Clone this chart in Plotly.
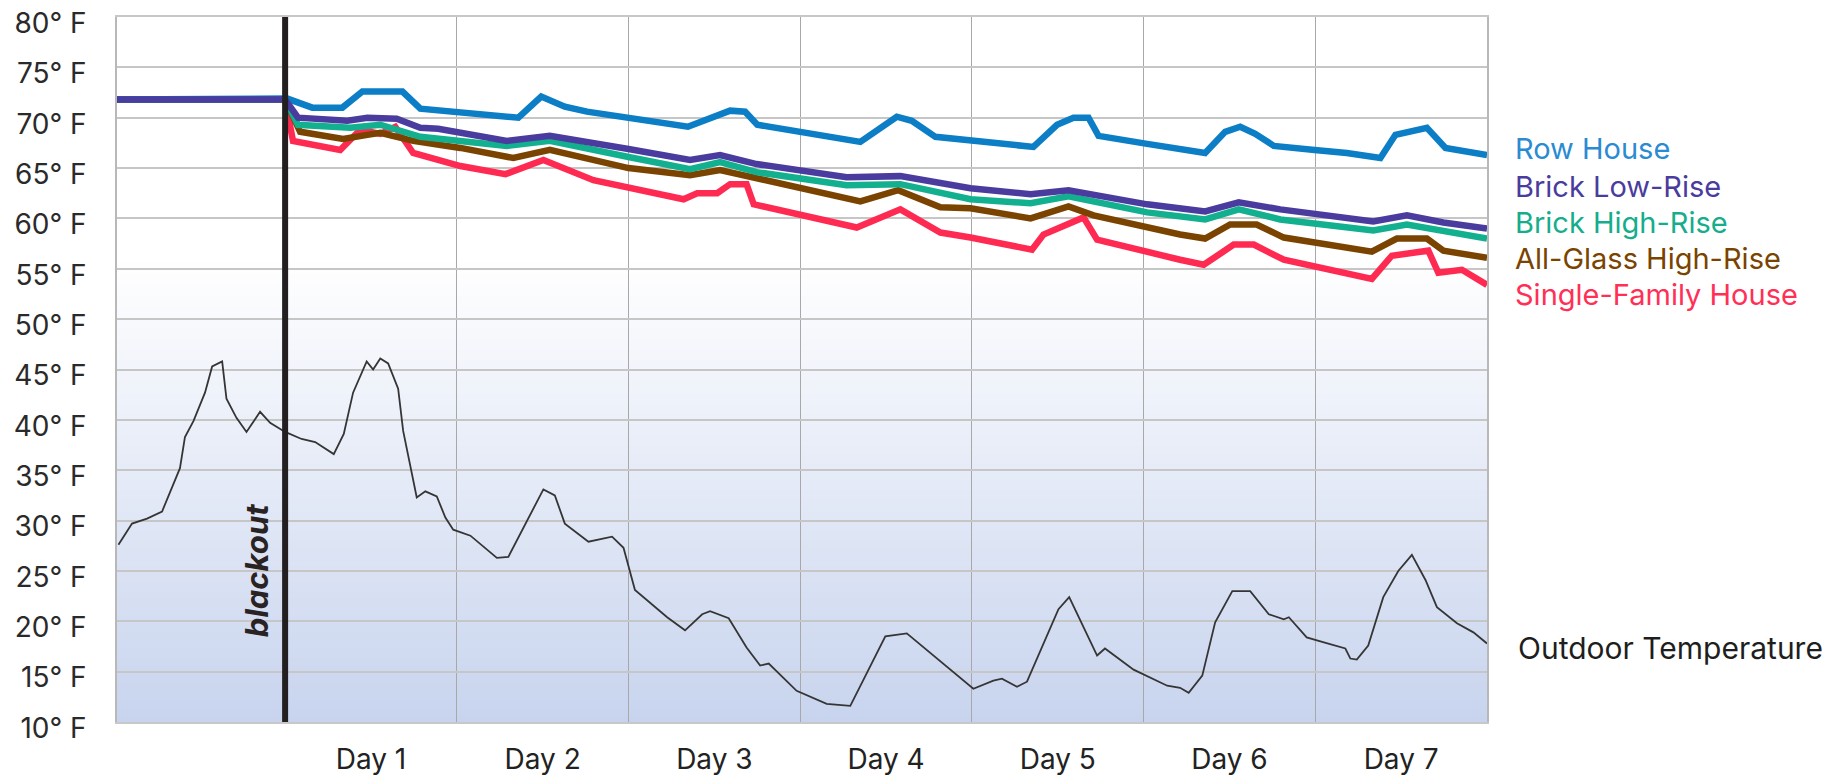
import zlib, struct, base64
import plotly.graph_objects as go

# ---------------- data (hours relative to blackout, °F) ----------------
row_house_h = [-23.5, 0, 0.3, 3.8, 8.0, 10.8, 16.4, 18.9, 32.6, 35.8, 39.1, 42.2, 56.3, 62.2, 64.3, 66.0,
               80.4, 85.5, 87.6, 90.9, 95.8, 100.4, 104.6, 107.9, 110.2, 112.3, 113.7, 120.5, 128.6, 131.4,
               133.5, 135.6, 138.2, 143.9, 148.4, 153.1, 155.2, 159.6, 162.2, 168.0]
row_house_t = [71.8, 71.8, 71.9, 71.0, 71.0, 72.6, 72.6, 70.9, 70.0, 72.1, 71.1, 70.6, 69.1, 70.7, 70.6, 69.3,
               67.6, 70.1, 69.7, 68.1, 67.7, 67.3, 67.1, 69.3, 70.0, 70.0, 68.2, 67.4, 66.5, 68.6,
               69.1, 68.4, 67.2, 66.8, 66.5, 66.0, 68.3, 69.0, 67.0, 66.3]

brick_low_h = [-23.5, 0, 1.8, 8.7, 11.5, 15.6, 18.9, 21.4, 31.0, 37.0, 48.0, 56.6, 60.8, 65.9, 78.5, 86.0,
               95.8, 104.2, 109.5, 120.5, 128.6, 133.3, 139.1, 152.1, 156.8, 161.9, 168.0]
brick_low_t = [71.8, 71.8, 70.0, 69.7, 70.0, 69.9, 69.0, 68.9, 67.7, 68.2, 66.9, 65.8, 66.3, 65.4, 64.1, 64.2,
               63.0, 62.4, 62.8, 61.4, 60.7, 61.6, 60.9, 59.7, 60.3, 59.6, 59.0]

brick_high_h = [-23.5, 0, 1.8, 9.1, 13.3, 18.9, 31.0, 37.0, 48.0, 56.6, 60.8, 65.9, 78.5, 86.0,
                95.8, 104.2, 109.5, 120.5, 128.6, 133.3, 139.1, 152.1, 156.8, 161.9, 168.0]
brick_high_t = [71.8, 71.8, 69.3, 69.0, 69.3, 68.1, 67.2, 67.7, 66.1, 64.9, 65.6, 64.6, 63.3, 63.4,
                61.9, 61.5, 62.2, 60.6, 59.9, 60.9, 59.9, 58.8, 59.4, 58.7, 58.0]

glass_high_h = [-23.5, 0, 2.1, 8.1, 11.5, 13.3, 17.9, 24.5, 31.9, 37.0, 48.0, 56.6, 60.8, 80.4, 85.7, 91.6,
                95.8, 104.2, 109.5, 113.0, 125.1, 128.6, 132.1, 135.8, 139.6, 151.9, 155.4, 159.6, 161.9, 168.0]
glass_high_t = [71.8, 71.8, 68.6, 67.9, 68.3, 68.5, 67.7, 67.0, 66.0, 66.8, 65.0, 64.3, 64.8, 61.7, 62.8, 61.1,
                61.0, 60.0, 61.2, 60.3, 58.4, 58.0, 59.4, 59.4, 58.1, 56.7, 58.0, 58.0, 56.8, 56.1]

single_family_h = [-23.5, 0, 1.1, 7.7, 10.5, 13.3, 15.4, 17.9, 24.5, 30.8, 36.1, 43.1, 55.7, 57.6, 60.4, 62.2,
                   64.5, 65.5, 79.9, 86.0, 91.6, 95.8, 104.4, 106.0, 111.6, 113.5, 125.1, 128.4, 132.6, 135.4,
                   139.6, 151.9, 154.7, 159.8, 161.2, 164.5, 168.0]
single_family_t = [71.8, 71.8, 67.7, 66.8, 68.8, 68.4, 69.1, 66.5, 65.2, 64.4, 65.8, 63.8, 61.9, 62.5, 62.5, 63.4,
                   63.4, 61.4, 59.1, 60.9, 58.6, 58.1, 56.9, 58.4, 60.1, 57.9, 55.9, 55.4, 57.4, 57.4,
                   55.9, 54.0, 56.3, 56.8, 54.6, 54.9, 53.4]

outdoor_h = [-23.3, -21.4, -19.3, -17.2, -14.7, -14.0, -12.8, -11.2, -10.2, -8.8, -8.2, -6.8, -5.4, -3.5, -2.1,
             0.0, 2.3, 4.2, 6.8, 8.2, 9.5, 11.4, 12.3, 13.3, 14.4, 15.8, 16.5, 18.4, 19.6, 21.2, 22.4, 23.5,
             25.9, 29.6, 31.2, 36.1, 37.7, 39.1, 42.4, 45.7, 47.3, 48.9, 53.4, 55.9, 58.3, 59.4, 62.0, 64.5,
             66.4, 67.6, 71.5, 75.7, 79.0, 83.9, 86.9, 96.2, 99.0, 100.2, 102.3, 103.7, 108.1, 109.6, 113.5,
             114.6, 118.6, 123.3, 125.1, 126.3, 128.2, 130.0, 132.4, 134.9, 137.5, 139.6, 140.3, 142.8, 145.2,
             148.2, 148.9, 149.8, 151.4, 153.5, 155.6, 157.5, 159.4, 161.0, 163.8, 166.1, 168.0]
outdoor_t = [27.6, 29.7, 30.2, 30.9, 35.2, 38.3, 39.9, 42.7, 45.3, 45.8, 42.1, 40.2, 38.8, 40.8, 39.7,
             38.8, 38.1, 37.8, 36.6, 38.6, 42.7, 45.8, 45.0, 46.1, 45.6, 43.1, 38.9, 32.3, 32.9, 32.4, 30.3, 29.1,
             28.5, 26.3, 26.4, 33.1, 32.5, 29.7, 27.9, 28.4, 27.3, 23.1, 20.4, 19.1, 20.7, 21.0, 20.3, 17.4,
             15.6, 15.8, 13.1, 11.8, 11.6, 18.5, 18.8, 13.3, 14.1, 14.3, 13.5, 14.0, 21.2, 22.4, 16.6,
             17.3, 15.2, 13.6, 13.4, 12.9, 14.6, 19.9, 23.0, 23.0, 20.7, 20.2, 20.4, 18.4, 17.9,
             17.3, 16.3, 16.2, 17.6, 22.4, 25.0, 26.6, 24.1, 21.4, 19.8, 18.9, 17.8]

series_names = ["Row House", "Brick Low-Rise", "Brick High-Rise", "All-Glass High-Rise", "Single-Family House"]
line_colors = ["#0b7ec6", "#4a3b9e", "#12b08f", "#7a4400", "#ff2a52"]
label_colors = ["#2a8bd2", "#4a3b9e", "#16ad8d", "#7a4400", "#ff2f55"]

day_labels = ["Day 1", "Day 2", "Day 3", "Day 4", "Day 5", "Day 6", "Day 7"]
day_centers = [12, 36, 60, 84, 108, 132, 156]
day_bounds = [0, 24, 48, 72, 96, 120, 144, 168]
y_ticks = list(range(10, 85, 5))
y_ticktext = [f"{v}° F" for v in y_ticks]
BLACKOUT_HOUR = 0

FONT = "Inter, Lato, 'Open Sans', sans-serif"

# ---------------- gradient background image ----------------
def gradient_png(top_rgb, bottom_rgb, n=256):
    raw = b""
    for i in range(n):
        f = i / (n - 1)
        c = [round(t + (b - t) * f) for t, b in zip(top_rgb, bottom_rgb)]
        raw += b"\x00" + bytes(c)
    def chunk(tag, data):
        return (struct.pack(">I", len(data)) + tag + data
                + struct.pack(">I", zlib.crc32(tag + data) & 0xFFFFFFFF))
    png = (b"\x89PNG\r\n\x1a\n"
           + chunk(b"IHDR", struct.pack(">IIBBBBB", 1, n, 8, 2, 0, 0, 0))
           + chunk(b"IDAT", zlib.compress(raw))
           + chunk(b"IEND", b""))
    return "data:image/png;base64," + base64.b64encode(png).decode()

fig = go.Figure()

fig.add_trace(go.Scatter(x=outdoor_h, y=outdoor_t, mode="lines", name="Outdoor Temperature",
                         line=dict(color="#353535", width=1.8), showlegend=False))

xs = [row_house_h, brick_low_h, brick_high_h, glass_high_h, single_family_h]
ys = [row_house_t, brick_low_t, brick_high_t, glass_high_t, single_family_t]
for idx in [4, 3, 2, 0, 1]:
    fig.add_trace(go.Scatter(x=xs[idx], y=ys[idx], mode="lines", name=series_names[idx],
                             line=dict(color=line_colors[idx], width=6.5), showlegend=False))

# blackout marker line
fig.add_shape(type="line", x0=BLACKOUT_HOUR, x1=BLACKOUT_HOUR, xref="x", y0=0, y1=1, yref="paper",
              line=dict(color="#231f20", width=6), layer="above")

fig.add_layout_image(dict(source=gradient_png((255, 255, 255), (200, 212, 238)),
                          xref="paper", yref="y", x=0, y=56, sizex=1, sizey=46,
                          xanchor="left", yanchor="top", sizing="stretch", layer="below"))

# right-side labels
label_y = [0.814, 0.760, 0.708, 0.657, 0.606]
for name, col, yy in zip(series_names, label_colors, label_y):
    fig.add_annotation(text=name, xref="paper", yref="paper", x=1.019, y=yy, xanchor="left",
                       yanchor="middle", showarrow=False, font=dict(family=FONT, size=29, color=col))
fig.add_annotation(text="Outdoor Temperature", xref="paper", yref="paper", x=1.021, y=0.105,
                   xanchor="left", yanchor="middle", showarrow=False,
                   font=dict(family=FONT, size=30, color="#1e1e1e"))
fig.add_annotation(text="<i><b>blackout</b></i>", x=-3.9, y=25, xref="x", yref="y", textangle=-90,
                   showarrow=False, font=dict(family=FONT, size=31, color="#2a2324"))

# the page body adds an 8px margin, so the figure is 8px smaller on each axis
fig.update_layout(
    width=1839, height=768,
    margin=dict(l=109, r=360, t=9, b=54, autoexpand=False),
    paper_bgcolor="white", plot_bgcolor="white",
    font=dict(family=FONT, color="#2a2a2a"),
    showlegend=False,
)
fig.update_xaxes(range=[-23.5, 168], tickvals=day_centers, ticktext=day_labels, showgrid=False,
                 automargin=False,
                 zeroline=False, showline=True, mirror=True, linecolor="#c8c8c8", linewidth=1.5,
                 ticks="", ticklabelstandoff=12, tickfont=dict(family=FONT, size=28, color="#222"),
                 minor=dict(tickvals=day_bounds, showgrid=True, gridcolor="#a8a8a8", gridwidth=1.2))
fig.update_yaxes(range=[10, 80], tickvals=y_ticks, ticktext=y_ticktext, showgrid=True,
                 automargin=False, ticklabeloverflow="allow", ticklabelshift=6,
                 gridcolor="#c6c6c6", gridwidth=1.5, zeroline=False, showline=True, mirror=True,
                 linecolor="#b8b8b8", linewidth=1.5, ticks="", ticklabelstandoff=23,
                 tickfont=dict(family=FONT, size=28, color="#2a2a2a"))

fig.write_html("out.html")
